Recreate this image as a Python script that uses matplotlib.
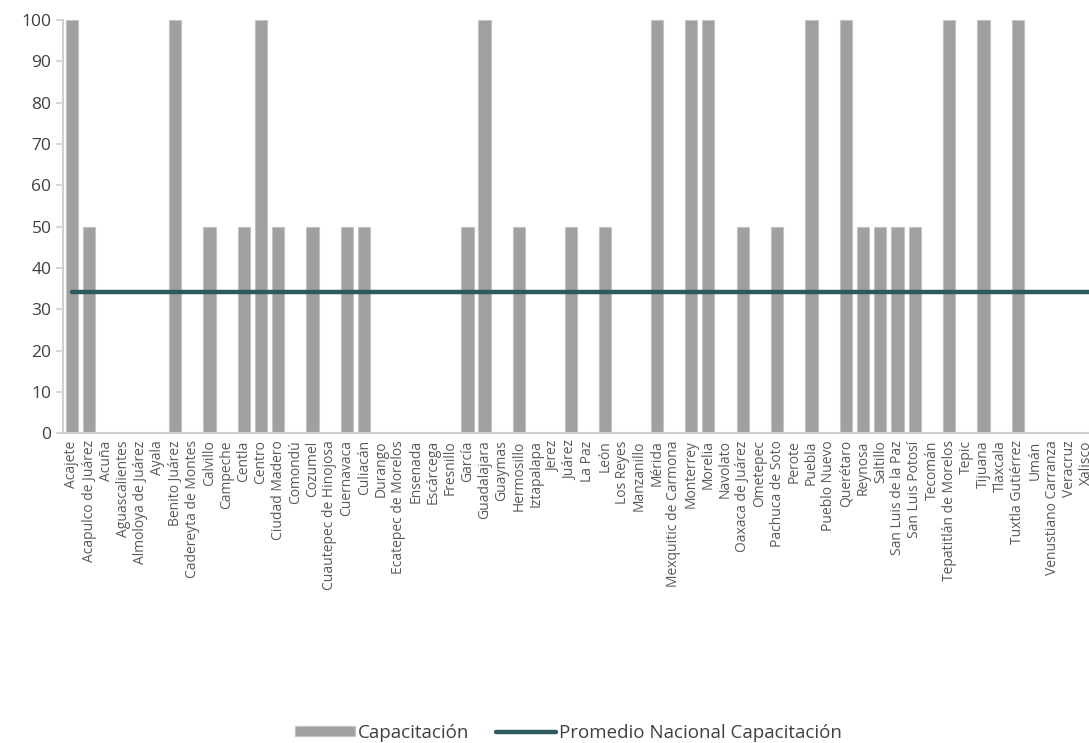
import numpy as np
import matplotlib.pyplot as plt

municipios = [
    "Acajete", "Acapulco de Juárez", "Acuña", "Aguascalientes", "Almoloya de Juárez",
    "Ayala", "Benito Juárez", "Cadereyta de Montes", "Calvillo", "Campeche",
    "Centla", "Centro", "Ciudad Madero", "Comondú", "Cozumel",
    "Cuautepec de Hinojosa", "Cuernavaca", "Culiacán", "Durango", "Ecatepec de Morelos",
    "Ensenada", "Escárcega", "Fresnillo", "García", "Guadalajara",
    "Guaymas", "Hermosillo", "Iztapalapa", "Jerez", "Juárez",
    "La Paz", "León", "Los Reyes", "Manzanillo", "Mérida",
    "Mexquitic de Carmona", "Monterrey", "Morelia", "Navolato", "Oaxaca de Juárez",
    "Ometepec", "Pachuca de Soto", "Perote", "Puebla", "Pueblo Nuevo",
    "Querétaro", "Reynosa", "Saltillo", "San Luis de la Paz", "San Luis Potosí",
    "Tecomán", "Tepatitlán de Morelos", "Tepic", "Tijuana", "Tlaxcala",
    "Tuxtla Gutiérrez", "Umán", "Venustiano Carranza", "Veracruz", "Xalisco",
]
capacitacion = [
    100, 50, 0, 0, 0, 0, 100, 0, 50, 0,
    50, 100, 50, 0, 50, 0, 50, 50, 0, 0,
    0, 0, 0, 50, 100, 0, 50, 0, 0, 50,
    0, 50, 0, 0, 100, 0, 100, 100, 0, 50,
    0, 50, 0, 100, 0, 100, 50, 50, 50, 50,
    0, 100, 0, 100, 0, 100, 0, 0, 0, 0,
]
promedio_nacional = 34.1

plt.rcParams['font.family'] = ['Open Sans', 'DejaVu Sans']

fig = plt.figure(figsize=(10.89, 7.43), dpi=100)
ax = fig.add_axes([0.0581, 0.4168, 0.9477, 0.5563])

x = np.arange(len(municipios))
bars = ax.bar(x, capacitacion, width=0.72, color="#A0A0A0", edgecolor="#C4C4C4",
              linewidth=0.8, label="Capacitación", zorder=2)
line, = ax.plot([x[0], len(municipios)], [promedio_nacional] * 2,
                color="#2F5A5D", linewidth=3.2, solid_capstyle="round",
                label="Promedio Nacional Capacitación", zorder=3)

ax.set_xlim(-0.5, len(municipios) - 0.5)
ax.set_ylim(0, 100)
ax.set_yticks(range(0, 101, 10))
ax.set_xticks(x)
ax.set_xticklabels(municipios, rotation=90, fontsize=10, color="#595959")
ax.tick_params(axis="y", labelsize=12.5, labelcolor="#404040", color="#D0D0D0",
               length=5, width=1.2)
ax.tick_params(axis="x", length=0, pad=5)
for s in ["top", "right"]:
    ax.spines[s].set_visible(False)
for s in ["left", "bottom"]:
    ax.spines[s].set_color("#D0D0D0")
    ax.spines[s].set_linewidth(1.5)

fig.legend([bars, line], ["Capacitación", "Promedio Nacional Capacitación"],
           loc="center", bbox_to_anchor=(0.522, 0.0135), ncol=2,
           frameon=False, fontsize=13.5, handlelength=3.2, handleheight=0.45,
           columnspacing=1.4, handletextpad=0.15, labelcolor="#404040",
           borderpad=0)

fig.savefig("out.png", dpi=100)
